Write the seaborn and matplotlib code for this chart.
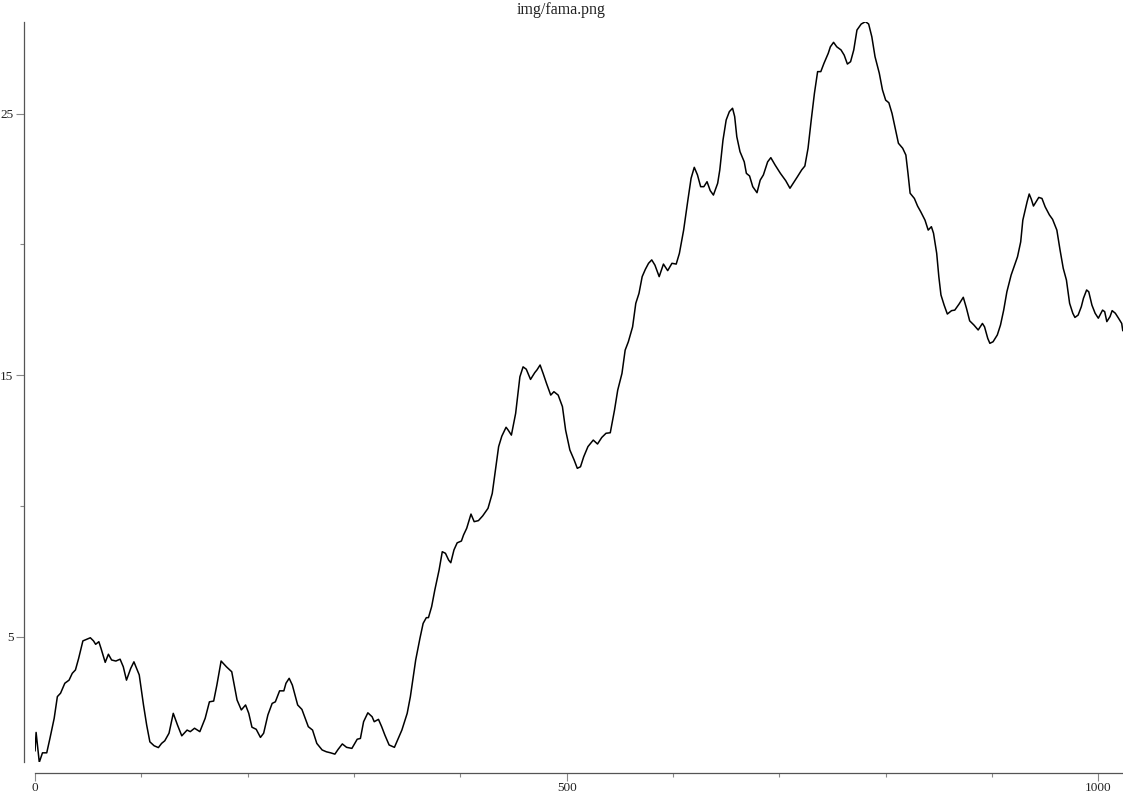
import matplotlib
matplotlib.use("Agg")
import matplotlib.pyplot as plt
import seaborn as sns
from matplotlib.ticker import MultipleLocator

# values (step index, value)
steps = [
    0, 1, 4, 7, 11, 14, 18, 21, 24, 28,
    32, 35, 38, 41, 45, 49, 52, 55, 57, 60,
    62, 66, 69, 72, 76, 80, 83, 86, 90, 93,
    98, 102, 105, 108, 112, 116, 119, 122, 126, 130,
    134, 138, 143, 146, 150, 155, 160, 164, 168, 171,
    175, 180, 185, 190, 194, 198, 201, 204, 208, 212,
    215, 219, 223, 226, 230, 234, 236, 239, 242, 247,
    251, 257, 261, 265, 270, 274, 278, 282, 285, 289,
    293, 298, 303, 306, 309, 313, 317, 319, 323, 326,
    329, 333, 338, 341, 345, 350, 353, 358, 362, 365,
    368, 370, 373, 376, 380, 383, 386, 389, 391, 394,
    397, 401, 403, 406, 410, 413, 417, 421, 426, 430,
    433, 436, 439, 443, 445, 448, 452, 456, 459, 462,
    466, 470, 472, 475, 478, 481, 485, 488, 492, 496,
    499, 503, 507, 510, 513, 516, 520, 525, 529, 533,
    537, 541, 545, 548, 552, 555, 558, 562, 565, 568,
    571, 574, 577, 580, 583, 587, 591, 595, 599, 603,
    606, 610, 614, 617, 620, 623, 626, 629, 632, 635,
    638, 642, 644, 647, 650, 653, 656, 658, 660, 663,
    667, 669, 672, 675, 679, 682, 685, 689, 692, 696,
    701, 706, 710, 714, 717, 721, 724, 727, 730, 733,
    736, 739, 742, 746, 748, 751, 754, 758, 761, 764,
    767, 770, 773, 777, 781, 784, 787, 790, 794, 797,
    800, 803, 806, 809, 812, 816, 819, 821, 823, 827,
    830, 833, 837, 840, 843, 845, 848, 850, 852, 855,
    858, 862, 865, 869, 873, 876, 879, 883, 887, 891,
    893, 896, 898, 901, 905, 908, 911, 914, 918, 921,
    924, 927, 929, 933, 935, 937, 939, 942, 944, 947,
    950, 954, 957, 961, 964, 967, 970, 973, 976, 978,
    981, 984, 986, 989, 991, 994, 997, 1000, 1004, 1006,
    1008, 1011, 1013, 1016, 1019, 1022, 1023,
]
values = [
    0.63, 1.34, 0.20, 0.56, 0.56, 1.11, 1.88, 2.71, 2.84, 3.22,
    3.34, 3.60, 3.73, 4.17, 4.84, 4.91, 4.96, 4.84, 4.71, 4.81,
    4.56, 4.02, 4.33, 4.11, 4.07, 4.14, 3.85, 3.34, 3.79, 4.04,
    3.54, 2.39, 1.62, 0.98, 0.83, 0.76, 0.92, 1.02, 1.31, 2.07,
    1.62, 1.21, 1.43, 1.37, 1.50, 1.37, 1.88, 2.51, 2.54, 3.15,
    4.07, 3.85, 3.66, 2.58, 2.20, 2.39, 2.07, 1.54, 1.46, 1.15,
    1.31, 2.01, 2.45, 2.51, 2.93, 2.93, 3.22, 3.41, 3.15, 2.39,
    2.22, 1.56, 1.43, 0.92, 0.67, 0.60, 0.56, 0.51, 0.69, 0.90,
    0.77, 0.73, 1.08, 1.11, 1.75, 2.09, 1.94, 1.75, 1.84, 1.56,
    1.24, 0.86, 0.77, 1.05, 1.43, 2.07, 2.71, 4.11, 4.94, 5.51,
    5.73, 5.73, 6.15, 6.79, 7.55, 8.25, 8.19, 7.93, 7.83, 8.32,
    8.59, 8.66, 8.89, 9.15, 9.69, 9.40, 9.44, 9.62, 9.91, 10.48,
    11.37, 12.27, 12.67, 13.01, 12.90, 12.71, 13.54, 14.94, 15.32, 15.23,
    14.84, 15.10, 15.20, 15.39, 15.05, 14.69, 14.24, 14.37, 14.24, 13.80,
    12.90, 12.14, 11.76, 11.44, 11.50, 11.88, 12.27, 12.52, 12.37, 12.62,
    12.78, 12.80, 13.67, 14.43, 15.07, 15.96, 16.28, 16.85, 17.75, 18.13,
    18.77, 19.05, 19.28, 19.41, 19.21, 18.77, 19.25, 19.00, 19.28, 19.25,
    19.66, 20.55, 21.70, 22.53, 22.95, 22.66, 22.21, 22.21, 22.40, 22.06,
    21.89, 22.34, 22.85, 23.99, 24.76, 25.08, 25.21, 24.89, 24.12, 23.55,
    23.16, 22.72, 22.62, 22.21, 21.98, 22.46, 22.66, 23.16, 23.32, 23.04,
    22.72, 22.44, 22.15, 22.40, 22.59, 22.85, 23.00, 23.68, 24.76, 25.78,
    26.61, 26.61, 26.93, 27.31, 27.56, 27.73, 27.56, 27.44, 27.24, 26.90,
    26.99, 27.44, 28.20, 28.43, 28.52, 28.43, 27.94, 27.18, 26.55, 25.91,
    25.52, 25.42, 25.01, 24.44, 23.87, 23.68, 23.42, 22.72, 21.96, 21.76,
    21.47, 21.25, 20.93, 20.55, 20.68, 20.43, 19.66, 18.77, 18.07, 17.68,
    17.34, 17.47, 17.49, 17.72, 17.98, 17.56, 17.08, 16.92, 16.73, 16.98,
    16.85, 16.41, 16.22, 16.28, 16.54, 16.92, 17.49, 18.19, 18.83, 19.18,
    19.53, 20.10, 20.93, 21.63, 21.93, 21.73, 21.47, 21.67, 21.80, 21.76,
    21.44, 21.13, 20.96, 20.55, 19.79, 19.09, 18.64, 17.75, 17.37, 17.21,
    17.30, 17.62, 17.94, 18.26, 18.19, 17.68, 17.37, 17.18, 17.49, 17.43,
    17.05, 17.24, 17.47, 17.37, 17.18, 16.98, 16.70,
]
assert len(steps) == len(values)

title = "img/fama.png"
x_major = [0, 500, 1000]
y_major = [5, 15, 25]

sns.set_style("ticks")
plt.rcParams["font.family"] = ["Liberation Serif", "DejaVu Serif"]

fig = plt.figure(figsize=(11.23, 7.94), dpi=100)
ax = fig.add_axes([0.0312, 0.0400, 0.9686, 0.9327])

sns.lineplot(x=steps, y=values, color="black", linewidth=1.1, ax=ax)

ax.set_xlim(min(steps), max(steps))
ax.set_ylim(min(values), max(values))
ax.set_xticks(x_major)
ax.set_yticks(y_major)
ax.xaxis.set_minor_locator(MultipleLocator(100))
ax.yaxis.set_minor_locator(MultipleLocator(5))
ax.set_xlabel("")
ax.set_ylabel("")

# range frame: spines pulled off the data and cut to its extent
for side in ["top", "right"]:
    ax.spines[side].set_visible(False)
for side in ["left", "bottom"]:
    ax.spines[side].set_position(("outward", 8))
    ax.spines[side].set_color("#555555")
    ax.spines[side].set_linewidth(0.9)
ax.spines["left"].set_bounds(min(values), max(values))
ax.spines["bottom"].set_bounds(min(steps), max(steps))

ax.tick_params(which="major", length=6, width=0.8, color="#888888",
               labelsize=9.5, labelcolor="#222222")
ax.tick_params(which="minor", length=3, width=0.8, color="#888888")
ax.tick_params(axis="x", which="major", pad=0.5)
ax.tick_params(axis="y", which="major", pad=1.5)

fig.suptitle(title, y=0.987, va="center", fontsize=11.5, color="#222222")

fig.savefig("out.png", dpi=100)
